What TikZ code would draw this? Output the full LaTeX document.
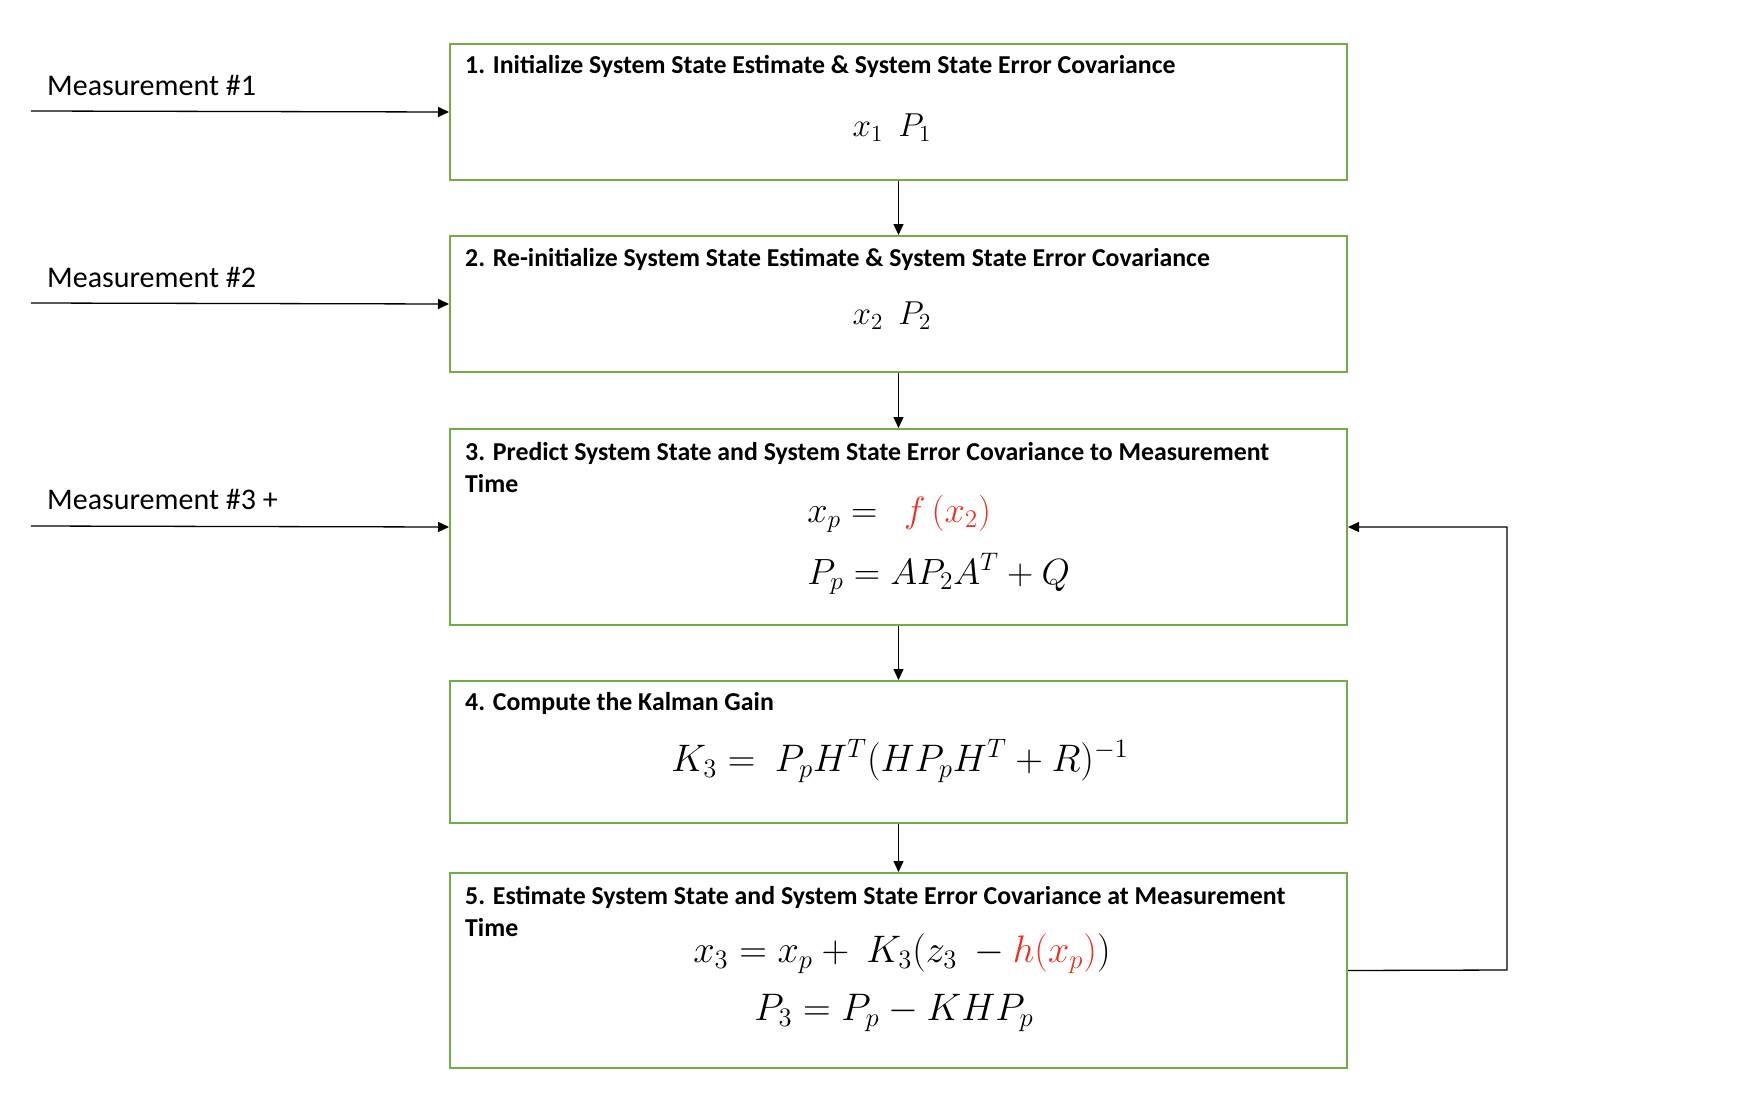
\documentclass[tikz,border=0pt]{standalone}
\usepackage{fontspec}
\setmainfont{Carlito}
\usetikzlibrary{arrows.meta}
\definecolor{kgreen}{RGB}{112,173,71}
\definecolor{kred}{RGB}{234,51,35}
\begin{document}
\begin{tikzpicture}[x=1pt,y=-1pt,
  box/.style={draw=kgreen, line width=2pt, minimum width=897pt, anchor=north west, inner sep=0pt},
  arr/.style={-{Triangle[length=11pt,width=10pt]}, line width=1.3pt},
  ttl/.style={anchor=west, inner sep=0pt, align=left, font=\bfseries\fontsize{25.8}{32}\selectfont},
  meas/.style={anchor=west, inner sep=0pt, font=\fontsize{30}{34}\selectfont},
  eqs/.style={inner sep=0pt, font=\fontsize{20.74}{24}\selectfont, scale=1.6, transform shape},
  eqm/.style={inner sep=0pt, font=\fontsize{20.74}{24}\selectfont, scale=1.76, transform shape},
  eql/.style={inner sep=0pt, font=\fontsize{20.74}{24}\selectfont, scale=1.85, transform shape}]
\useasboundingbox (0,0) rectangle (1740,1100);
% boxes
\node[box, minimum height=136pt] (b1) at (449,43) {};
\node[box, minimum height=136pt] (b2) at (449,235) {};
\node[box, minimum height=196pt] (b3) at (449,428) {};
\node[box, minimum height=142pt] (b4) at (449,680) {};
\node[box, minimum height=195pt] (b5) at (449,872) {};
% titles
\node[ttl] (t1) at (465,66) {1. Initialize System State Estimate \& System State Error Covariance};
\node[ttl] (t2) at (465,259) {2. Re-initialize System State Estimate \& System State Error Covariance};
\node[ttl] (t3) at (465,468) {3. Predict System State and System State Error Covariance to Measurement\\Time};
\node[ttl] (t4) at (465,703) {4. Compute the Kalman Gain};
\node[ttl] (t5) at (465,912) {5. Estimate System State and System State Error Covariance at Measurement\\Time};
% equations
\node[eqs] (e1) at (892,128) {$x_1\ \ P_1$};
\node[eqs] (e2) at (892,316) {$x_2\ \ P_2$};
\node[eqm, anchor=west] (e3a) at (807,514) {$x_p =\ \ {\color{kred}f\,(x_2)}$};
\node[eqm, anchor=west] (e3b) at (807,574) {$P_p = AP_2A^T + Q$};
\node[eql] (e4) at (900,761) {$K_3 =\ P_pH^T(HP_pH^T + R)^{-1}$};
\node[eql] (e5a) at (902,954) {$x_3 = x_p +\ K_3(z_3\ - {\color{kred}h(x_p)})$};
\node[eql] (e5b) at (894,1013) {$P_3 = P_p - KHP_p$};
% measurement inputs
\node[meas] (l1) at (47,85) {Measurement \#1};
\node[meas] (l2) at (47,277) {Measurement \#2};
\node[meas] (l3) at (47,499) {Measurement \#3 +};
\coordinate (m1) at (31,111);
\coordinate (m2) at (31,303);
\coordinate (m3) at (31,526);
\draw[arr] (m1) -- (b1.west);
\draw[arr] (m2) -- (b2.west);
\draw[arr] (m3) -- (b3.west);
% flow
\draw[arr] (b1.south) -- (b2.north);
\draw[arr] (b2.south) -- (b3.north);
\draw[arr] (b3.south) -- (b4.north);
\draw[arr] (b4.south) -- (b5.north);
\coordinate (fb) at (1507,970);
\draw[arr] (b5.east) -- (fb) |- (b3.east);
\end{tikzpicture}
\end{document}
